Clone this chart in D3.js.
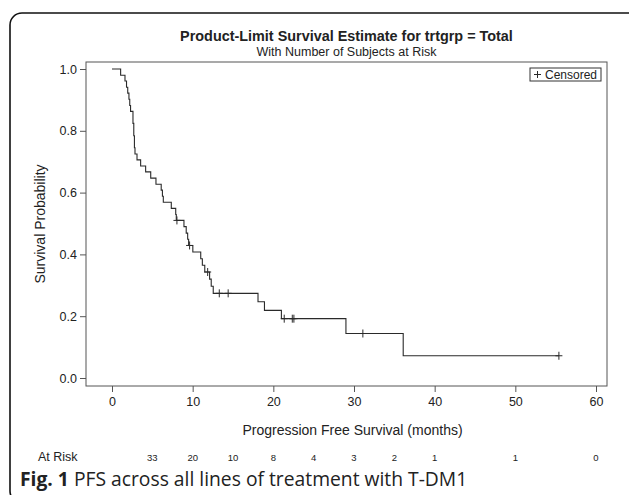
<!DOCTYPE html>
<html>
<head>
<meta charset="utf-8">
<script src="https://cdn.jsdelivr.net/npm/d3@7"></script>
<style>
  html, body { margin: 0; padding: 0; background: #fff; }
  svg { display: block; }
  text { font-family: "Liberation Sans", Arial, sans-serif; fill: #222; }
</style>
</head>
<body>
<script>
// step times (months) and survival after each step
const stepTimes = [0, 1.07, 1.61, 1.8, 1.95, 2.1, 2.2, 2.3, 2.6, 2.7, 2.78, 2.85, 3.1, 3.55, 4.17, 4.8,
  5.45, 6.1, 6.25, 6.36, 7.35, 7.9, 7.97, 8.92, 9.2, 9.38, 9.5, 10.02, 11.0, 11.2, 11.5,
  12.1, 12.3, 12.55, 18.1, 18.9, 21.0, 29.0, 36.1];
const stepSurv = [1, 0.980, 0.961, 0.941, 0.922, 0.902, 0.882, 0.863, 0.824, 0.784, 0.745, 0.725, 0.706, 0.686, 0.667, 0.647,
  0.627, 0.608, 0.588, 0.569, 0.549, 0.529, 0.510, 0.490, 0.469, 0.449, 0.429, 0.408, 0.386, 0.365, 0.343,
  0.320, 0.297, 0.274, 0.247, 0.219, 0.192, 0.144, 0.072];
const censorTimes = [8.05, 9.62, 11.86, 13.3, 14.4, 21.35, 22.35, 22.55, 31.1, 55.4];
const censorSurv = [0.510, 0.429, 0.343, 0.274, 0.274, 0.192, 0.192, 0.192, 0.144, 0.072];
const riskTimes = [5, 10, 15, 20, 25, 30, 35, 40, 50, 60];
const riskCounts = [33, 20, 10, 8, 4, 3, 2, 1, 1, 0];
const xTicks = [0, 10, 20, 30, 40, 50, 60];
const yTicks = [0, 0.2, 0.4, 0.6, 0.8, 1.0];

const width = 629;
const height = 495;
const frame = { left: 86, right: 607, top: 62, bottom: 386 };
const lineColor = '#2a2a2a';

const svg = d3.select('body').append('svg')
  .attr('width', width)
  .attr('height', height);

// rounded outer border of the figure panel
svg.append('rect')
  .attr('x', 10).attr('y', 13)
  .attr('width', 700).attr('height', 490)
  .attr('rx', 12)
  .attr('fill', 'none')
  .attr('stroke', '#111')
  .attr('stroke-width', 1.6);

const x = d3.scaleLinear().domain([0, 60]).range([112, 596]);
const y = d3.scaleLinear().domain([0, 1]).range([378, 69]);

const midX = (frame.left + frame.right) / 2;

svg.append('text')
  .attr('x', midX).attr('y', 41)
  .attr('text-anchor', 'middle')
  .style('font-size', '14.4px')
  .style('font-weight', 'bold')
  .text('Product-Limit Survival Estimate for trtgrp = Total');

svg.append('text')
  .attr('x', midX).attr('y', 56)
  .attr('text-anchor', 'middle')
  .style('font-size', '12.5px')
  .text('With Number of Subjects at Risk');

// axes
const xAxis = d3.axisBottom(x).tickValues(xTicks).tickSize(6).tickPadding(5).tickFormat(d3.format('d'));
const yAxis = d3.axisLeft(y).tickValues(yTicks).tickSize(6).tickPadding(3).tickFormat(d3.format('.1f'));

const gx = svg.append('g')
  .attr('transform', `translate(0, ${frame.bottom})`)
  .call(xAxis);
const gy = svg.append('g')
  .attr('transform', `translate(${frame.left}, 0)`)
  .call(yAxis);

[gx, gy].forEach(g => {
  g.select('.domain').remove();
  g.selectAll('line').attr('stroke', '#555');
  g.selectAll('text')
    .style('font-family', '"Liberation Sans", Arial, sans-serif')
    .style('font-size', '12.5px')
    .attr('fill', '#222');
});

svg.append('rect')
  .attr('x', frame.left).attr('y', frame.top)
  .attr('width', frame.right - frame.left)
  .attr('height', frame.bottom - frame.top)
  .attr('fill', 'none')
  .attr('stroke', '#555')
  .attr('stroke-width', 1);

svg.append('text')
  .attr('transform', `translate(45, ${(frame.top + frame.bottom) / 2}) rotate(-90)`)
  .attr('text-anchor', 'middle')
  .style('font-size', '14px')
  .text('Survival Probability');

svg.append('text')
  .attr('x', midX + 6).attr('y', 435)
  .attr('text-anchor', 'middle')
  .style('font-size', '14px')
  .text('Progression Free Survival (months)');

// survival curve
const curve = stepTimes.map((t, i) => [t, stepSurv[i]]);
curve.push([censorTimes[censorTimes.length - 1], stepSurv[stepSurv.length - 1]]);

svg.append('path')
  .datum(curve)
  .attr('fill', 'none')
  .attr('stroke', lineColor)
  .attr('stroke-width', 1.1)
  .attr('d', d3.line().x(d => x(d[0])).y(d => y(d[1])).curve(d3.curveStepAfter));

const cens = censorTimes.map((t, i) => [t, censorSurv[i]]);
svg.selectAll('.censor')
  .data(cens)
  .enter()
  .append('path')
  .attr('class', 'censor')
  .attr('transform', d => `translate(${x(d[0])}, ${y(d[1])})`)
  .attr('d', 'M-3.5,0H3.5M0,-4V4')
  .attr('stroke', lineColor)
  .attr('stroke-width', 1)
  .attr('fill', 'none');

// legend
const lg = svg.append('g').attr('transform', 'translate(530, 68)');
lg.append('rect')
  .attr('width', 71).attr('height', 13)
  .attr('fill', '#fff')
  .attr('stroke', '#333');
lg.append('path')
  .attr('d', 'M4,6.5H11M7.5,3V10')
  .attr('stroke', lineColor);
lg.append('text')
  .attr('x', 15).attr('y', 10.7)
  .style('font-size', '12px')
  .text('Censored');

// number at risk row
svg.append('text')
  .attr('x', 38).attr('y', 461)
  .style('font-size', '12.5px')
  .text('At Risk');

svg.selectAll('.risk')
  .data(riskTimes)
  .enter()
  .append('text')
  .attr('class', 'risk')
  .attr('x', d => x(d))
  .attr('y', 461)
  .attr('text-anchor', 'middle')
  .style('font-size', '9.5px')
  .text((d, i) => riskCounts[i]);

// caption
const cap = svg.append('text')
  .attr('x', 20).attr('y', 486)
  .style('font-family', '"Open Sans", "Noto Sans", sans-serif')
  .style('font-size', '19.3px')
  .attr('fill', '#231f20');
cap.append('tspan').style('font-weight', 'bold').text('Fig. 1');
cap.append('tspan').text(' PFS across all lines of treatment with T-DM1');
</script>
</body>
</html>
